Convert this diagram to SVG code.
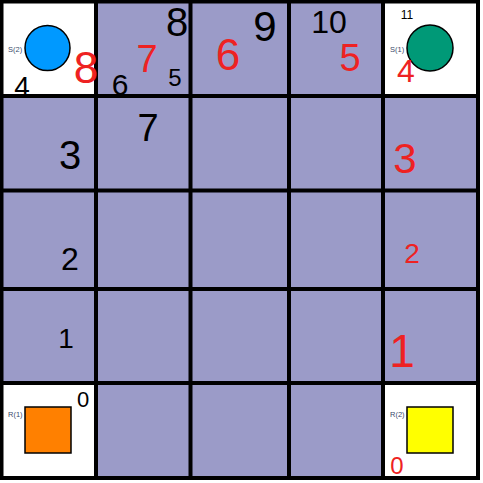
<svg xmlns="http://www.w3.org/2000/svg" width="483" height="483" viewBox="0 0 483 483">
<style>
.cell{fill:#9b9bc8}
.white{fill:#ffffff}
.grid{stroke:#000;stroke-width:4;fill:none}
.lbl{font-family:"Liberation Sans",Arial,sans-serif;font-size:7.5px;fill:#3a4a6a}
.hb{font-family:"Liberation Sans",Arial,sans-serif;fill:#000;text-anchor:middle}
.hr{font-family:"Liberation Sans",Arial,sans-serif;fill:#ee2222;text-anchor:middle}
.shape{stroke:#000;stroke-width:1.5}
</style>
<rect x="0" y="0" width="483" height="483" fill="#ffffff"/>
<rect x="0" y="0" width="480" height="480" class="cell"/>
<g id="corners">
<rect x="2" y="2" width="94" height="94" class="white"/>
<rect x="383" y="2" width="95" height="94" class="white"/>
<rect x="2" y="383" width="94" height="95" class="white"/>
<rect x="383" y="383" width="95" height="95" class="white"/>
</g>
<g id="grid" class="grid">
<path d="M1.5 0V480M96 0V480M190.5 0V480M289 0V480M383 0V480M478 0V480"/>
<path d="M0 1.5H480M0 96H480M0 190.5H480M0 289H480M0 383H480M0 478H480"/>
</g>
<g id="S2">
<circle cx="47.5" cy="48" r="22.5" fill="#0099ff" class="shape"/>
<text x="8" y="52" class="lbl">S(2)</text>
</g>
<g id="S1">
<circle cx="430" cy="48" r="23" fill="#009977" class="shape"/>
<text x="390" y="52" class="lbl">S(1)</text>
</g>
<g id="R1">
<rect x="25" y="407" width="46" height="46" fill="#ff8000" class="shape"/>
<text x="8" y="417" class="lbl">R(1)</text>
</g>
<g id="R2">
<rect x="407" y="407" width="46" height="46" fill="#ffff00" class="shape"/>
<text x="390" y="417" class="lbl">R(2)</text>
</g>
<g id="black-path">
<text x="22" y="96" font-size="28" class="hb">4</text>
<text x="120" y="95" font-size="30" class="hb">6</text>
<text x="175" y="86" font-size="24" class="hb">5</text>
<text x="177" y="36" font-size="40" class="hb">8</text>
<text x="265" y="41" font-size="42" class="hb">9</text>
<text x="329" y="33" font-size="32" class="hb">10</text>
<text x="407" y="19" font-size="12" class="hb">11</text>
<text x="148" y="141" font-size="38" class="hb">7</text>
<text x="70" y="169" font-size="40" class="hb">3</text>
<text x="70" y="270" font-size="32" class="hb">2</text>
<text x="66" y="348" font-size="28" class="hb">1</text>
<text x="83" y="407" font-size="22" class="hb">0</text>
</g>
<g id="red-path">
<text x="86" y="83" font-size="44" class="hr">8</text>
<text x="147" y="72" font-size="38" class="hr">7</text>
<text x="228" y="70" font-size="44" class="hr">6</text>
<text x="350" y="71" font-size="38" class="hr">5</text>
<text x="406" y="82" font-size="32" class="hr">4</text>
<text x="405" y="173" font-size="42" class="hr">3</text>
<text x="412" y="263" font-size="28" class="hr">2</text>
<text x="402" y="367" font-size="46" class="hr">1</text>
<text x="397" y="474" font-size="24" class="hr">0</text>
</g>
</svg>
